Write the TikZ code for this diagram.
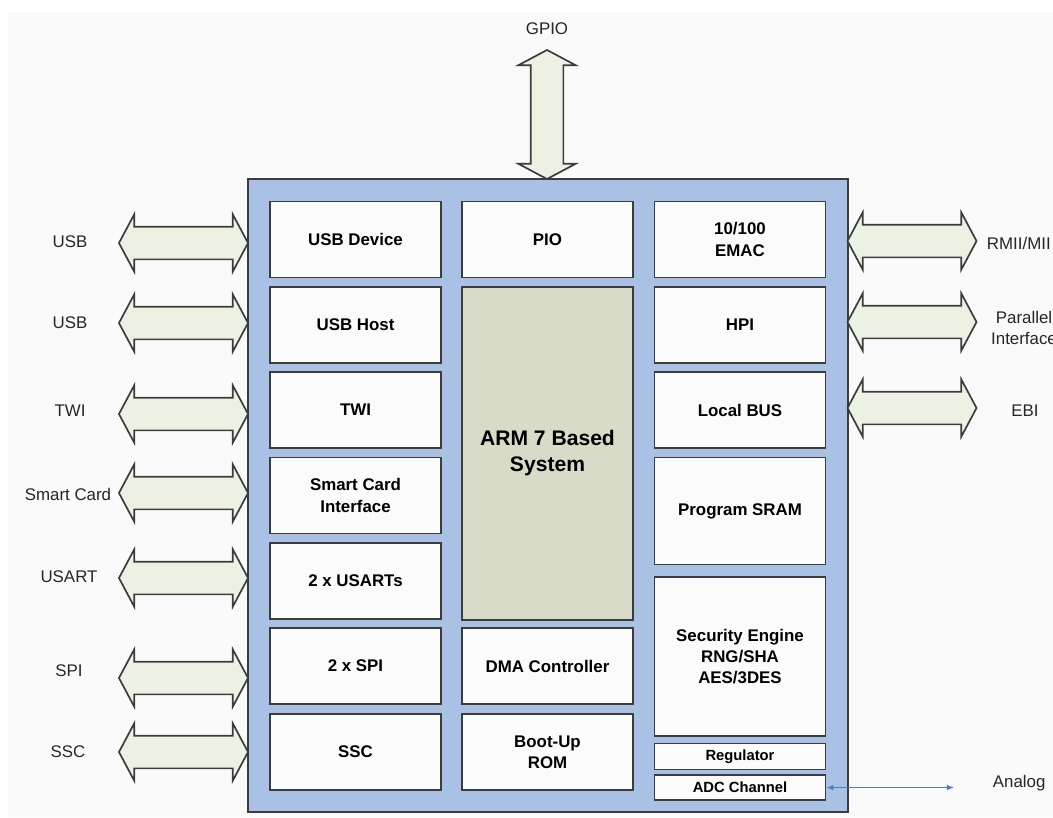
\documentclass[tikz,border=0pt]{standalone}
\usepackage{fontspec}
\setmainfont{Liberation Sans}
\usetikzlibrary{shapes.arrows,arrows.meta}

\definecolor{chipblue}{RGB}{168,193,228}
\definecolor{blockfill}{RGB}{251,251,251}
\definecolor{armfill}{RGB}{217,219,201}
\definecolor{busfill}{RGB}{237,241,228}
\definecolor{edgegray}{RGB}{60,60,60}
\definecolor{analogblue}{RGB}{74,126,200}
\definecolor{pagegray}{RGB}{250,250,250}

\tikzset{
  blk/.style={draw=edgegray, line width=1.2pt, fill=blockfill, inner sep=0pt,
    minimum width=4.275cm, minimum height=1.9cm, align=center,
    font=\fontsize{12}{15}\selectfont\bfseries},
  bus/.style={double arrow, draw=edgegray, line width=1.2pt, fill=busfill,
    inner xsep=0pt, inner ysep=0.3875cm, minimum height=3.225cm, minimum width=0pt,
    double arrow head extend=0.3125cm, double arrow tip angle=124},
  lbl/.style={text=black!85, align=center, font=\fontsize{12}{15}\selectfont}
}

\begin{document}
\begin{tikzpicture}[x=0.025cm, y=-0.025cm]
  \useasboundingbox (0,0) rectangle (1053,817);
  \clip (0,0) rectangle (1053,817);
  \fill[pagegray] (8,12) rectangle (1053,817);

  % chip outline
  \node[draw=edgegray, line width=1.2pt, fill=chipblue, inner sep=0pt,
    minimum width=15cm, minimum height=15.825cm] (chip) at (548,495.5) {};

  % left column
  \node[blk] (usbdev) at (355.5,239.5) {USB Device};
  \node[blk] (usbhost) at (355.5,325) {USB Host};
  \node[blk] (twi) at (355.5,410) {TWI};
  \node[blk] (smart) at (355.5,495.5) {Smart Card\\Interface};
  \node[blk] (usart) at (355.5,581) {2 x USARTs};
  \node[blk] (spi) at (355.5,666) {2 x SPI};
  \node[blk] (ssc) at (355.5,752) {SSC};

  % middle column
  \node[blk] (pio) at (547.5,239.5) {PIO};
  \node[blk, fill=armfill, minimum height=8.325cm,
    font=\fontsize{15}{18.5}\selectfont\bfseries] (arm) at (547.5,453.5) {ARM 7 Based\\System};
  \node[blk] (dma) at (547.5,666) {DMA Controller};
  \node[blk] (boot) at (547.5,752) {Boot-Up\\ROM};

  % right column
  \node[blk] (emac) at (740,239.5) {10/100\\EMAC};
  \node[blk] (hpi) at (740,325) {HPI};
  \node[blk] (lbus) at (740,410) {Local BUS};
  \node[blk, minimum height=2.675cm] (sram) at (740,511) {Program SRAM};
  \node[blk, minimum height=3.975cm] (sec) at (740,656.5) {Security Engine\\RNG/SHA\\AES/3DES};
  \node[blk, minimum height=0.65cm, font=\fontsize{10.5}{12}\selectfont\bfseries] (reg) at (740,756.5) {Regulator};
  \node[blk, minimum height=0.625cm, font=\fontsize{10.5}{12}\selectfont\bfseries] (adc) at (740,787.5) {ADC Channel};

  % buses
  \node[bus, rotate=90] (gpiobus) at (547,114.5) {};
  \node[bus] (b1) at (183.5,243) {};
  \node[bus] (b2) at (183.5,323) {};
  \node[bus] (b3) at (183.5,414) {};
  \node[bus] (b4) at (183.5,493) {};
  \node[bus] (b5) at (183.5,578) {};
  \node[bus] (b6) at (183.5,678) {};
  \node[bus] (b7) at (183.5,752) {};
  \node[bus] (b8) at (912,241) {};
  \node[bus] (b9) at (912,322) {};
  \node[bus] (b10) at (912,408) {};

  % labels
  \node[lbl] (gpio) at (547,29) {GPIO};
  \node[lbl] (l1) at (70,242) {USB};
  \node[lbl] (l2) at (70,323) {USB};
  \node[lbl] (l3) at (70,411) {TWI};
  \node[lbl] (l4) at (68,494) {Smart Card};
  \node[lbl] (l5) at (69,577) {USART};
  \node[lbl] (l6) at (69,671) {SPI};
  \node[lbl] (l7) at (68,752) {SSC};
  \node[lbl, anchor=west] (l8) at (982,243) {RMII/MII};
  \node[lbl] (l9) at (1024,328) {Parallel\\Interface};
  \node[lbl] (l10) at (1025,411) {EBI};
  \node[lbl, anchor=west] (analog) at (988,783) {Analog};

  % analog line
  \coordinate (anaend) at (954,787.5);
  \draw[analogblue, line width=0.8pt, {Latex[length=5pt,width=4pt]}-{Latex[length=5pt,width=4pt]}]
    (adc.east) -- (anaend);
\end{tikzpicture}
\end{document}
